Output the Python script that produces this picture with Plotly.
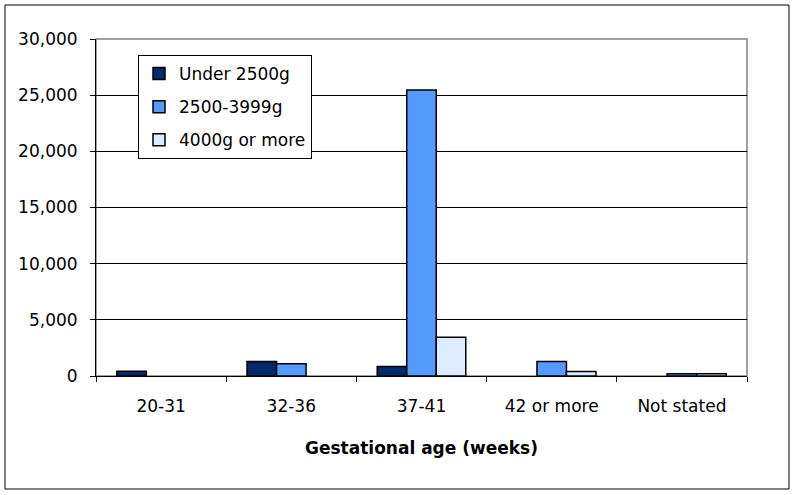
import plotly.graph_objects as go

categories = ["20-31", "32-36", "37-41", "42 or more", "Not stated"]
under_2500 = [430, 1280, 840, None, None]
w_2500_3999 = [None, 1100, 25450, 1280, 200]
w_4000_plus = [None, None, 3460, 410, 200]
y_ticks = [0, 5000, 10000, 15000, 20000, 25000, 30000]

series = [
    ("Under 2500g", under_2500, "#002B6B"),
    ("2500-3999g", w_2500_3999, "#559BFF"),
    ("4000g or more", w_4000_plus, "#DDEBFF"),
]

fig = go.Figure()
for i, (name, vals, col) in enumerate(series):
    fig.add_trace(go.Bar(
        x=categories, y=vals, name=name,
        marker=dict(color=col, line=dict(color="black", width=1.5)),
        legendgroup=str(i),
    ))

L, R, T, B = 96, 47, 39, 119
W, H = 794, 495
pw, ph = W - L - R, H - T - B

def px(x):
    return (x - L) / pw

def py(y):
    return (H - B - y) / ph

FONT = "DejaVu Sans, Verdana, sans-serif"

fig.update_layout(
    width=W, height=H,
    margin=dict(l=L, r=R, t=T, b=B, pad=0),
    paper_bgcolor="white", plot_bgcolor="white",
    barmode="group", bargap=0.32, bargroupgap=0,
    font=dict(family=FONT, size=17, color="black"),
    showlegend=True,
    legend=dict(
        x=px(138), y=py(55), xanchor="left", yanchor="top",
        bgcolor="white", bordercolor="#000000", borderwidth=1,
        font=dict(size=17), traceorder="grouped", tracegroupgap=8,
        itemwidth=30,
    ),
    xaxis=dict(
        type="category", showline=True, linecolor="black", linewidth=1,
        ticks="outside", tickson="boundaries", ticklen=5, tickcolor="black",
        showgrid=False, tickfont=dict(size=17), ticklabelstandoff=15,
        title=dict(text="<b>Gestational age (weeks)</b>", font=dict(size=17), standoff=26),
    ),
    yaxis=dict(
        range=[0, 30000], tickvals=y_ticks, tickformat=",",
        showline=True, linecolor="black", linewidth=1,
        ticks="outside", ticklen=5, tickcolor="black",
        showgrid=True, gridcolor="#000000", gridwidth=1,
        zeroline=False, tickfont=dict(size=17), ticklabelstandoff=9,
    ),
    shapes=[
        dict(type="rect", xref="paper", yref="paper", x0=0, y0=0, x1=1, y1=1,
             line=dict(color="#808080", width=1.5), layer="below"),
        dict(type="rect", xref="paper", yref="paper",
             x0=px(5), y0=py(489), x1=px(789), y1=py(5),
             line=dict(color="black", width=1), layer="below"),
    ],
)

fig.write_html(
    "out.html",
    config={"displayModeBar": False},
    post_script="document.body.style.margin='0';document.body.style.overflow='hidden';",
)
